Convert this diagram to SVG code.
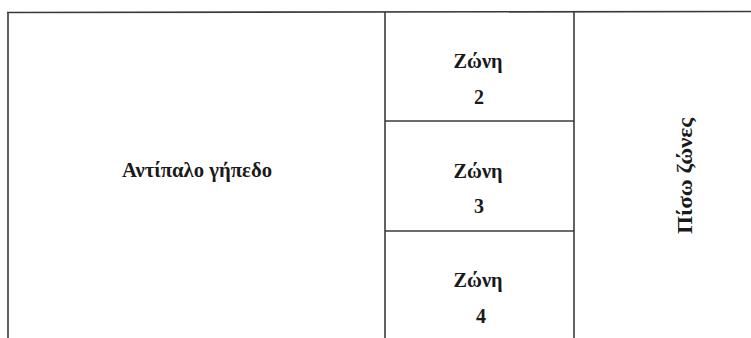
<svg xmlns="http://www.w3.org/2000/svg" width="751" height="338" viewBox="0 0 751 338">
<style>
.ln{stroke:#3a3a3a;stroke-width:1.6;fill:none}
.t{font-family:"Liberation Serif","DejaVu Serif",serif;font-weight:bold;font-size:20px;fill:#1a1a1a;text-anchor:middle}
</style>
<rect width="751" height="338" fill="#ffffff"/>
<g id="connectors">
<line class="ln" x1="7" y1="12.5" x2="751" y2="11.5"/>
<line class="ln" x1="8" y1="12" x2="8" y2="338"/>
<line class="ln" x1="385" y1="12" x2="385" y2="338"/>
<line class="ln" x1="574" y1="12" x2="574" y2="338"/>
<line class="ln" x1="385" y1="121" x2="574" y2="121"/>
<line class="ln" x1="385" y1="231" x2="574" y2="231"/>
</g>
<g id="opponent"><text class="t" x="197" y="177" textLength="150" lengthAdjust="spacingAndGlyphs">Αντίπαλο γήπεδο</text></g>
<g id="zone2"><text class="t" x="478" y="68" textLength="49" lengthAdjust="spacingAndGlyphs">Ζώνη</text><text class="t" x="479" y="104">2</text></g>
<g id="zone3"><text class="t" x="478" y="178" textLength="49" lengthAdjust="spacingAndGlyphs">Ζώνη</text><text class="t" x="479" y="213">3</text></g>
<g id="zone4"><text class="t" x="478" y="287" textLength="49" lengthAdjust="spacingAndGlyphs">Ζώνη</text><text class="t" x="481" y="323">4</text></g>
<g id="back"><text class="t" transform="translate(692,176) rotate(-90)" textLength="116" lengthAdjust="spacingAndGlyphs">Πίσω ζώνες</text></g>
</svg>
